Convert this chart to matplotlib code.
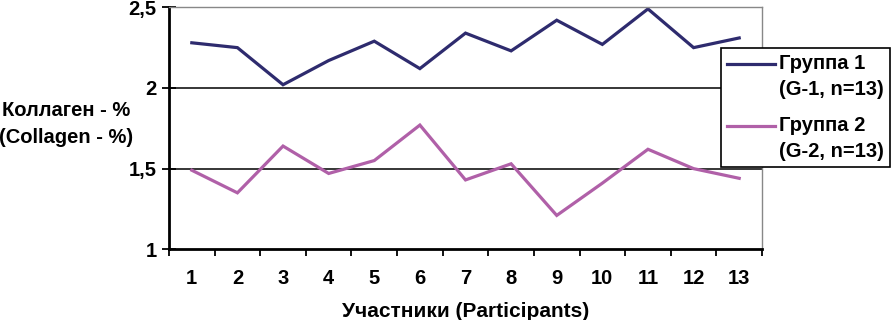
import numpy as np
import matplotlib.pyplot as plt
from matplotlib.ticker import FixedLocator, NullFormatter
from matplotlib.legend_handler import HandlerLine2D

participants = list(range(1, 14))
group1 = [2.28, 2.25, 2.02, 2.17, 2.29, 2.12, 2.34, 2.23, 2.42, 2.27, 2.49, 2.25, 2.31]
group2 = [1.49, 1.35, 1.64, 1.47, 1.55, 1.77, 1.43, 1.53, 1.21, 1.41, 1.62, 1.50, 1.44]
labels = ['Группа 1\n(G-1, n=13)', 'Группа 2\n(G-2, n=13)']
y_ticks = [1, 1.5, 2, 2.5]
y_tick_labels = ['1', '1,5', '2', '2,5']

plt.rcParams['font.family'] = ['Liberation Sans', 'DejaVu Sans']
plt.rcParams['font.weight'] = 'bold'


class RaisedLine(HandlerLine2D):
    # puts the legend line next to the first text line instead of the middle
    def __init__(self, shift, **kw):
        super().__init__(**kw)
        self.shift = shift

    def create_artists(self, legend, orig_handle, xdescent, ydescent, width, height, fontsize, trans):
        artists = super().create_artists(legend, orig_handle, xdescent, ydescent,
                                         width, height, fontsize, trans)
        for a in artists:
            a.set_ydata(np.asarray(a.get_ydata()) + self.shift)
        return artists


fig = plt.figure(figsize=(8.96, 3.2), dpi=100)
ax = fig.add_axes([169 / 896, 1 - 249.3 / 320, (762 - 169) / 896, (249.3 - 7.3) / 320])

l1, = ax.plot(participants, group1, color='#2e2b6e', lw=2.3, solid_joinstyle='miter')
l2, = ax.plot(participants, group2, color='#b060a8', lw=2.3, solid_joinstyle='miter')

ax.set_xlim(0.5, 13.5)
ax.set_ylim(1, 2.5)

# category axis: ticks between categories, labels at the centres
ax.xaxis.set_major_locator(FixedLocator(np.arange(0.5, 14, 1)))
ax.xaxis.set_major_formatter(NullFormatter())
ax.xaxis.set_minor_locator(FixedLocator(participants))
ax.set_xticklabels([str(p) for p in participants], minor=True)
ax.tick_params(axis='x', which='major', direction='out', length=5, width=1.3, color='black')
ax.tick_params(axis='x', which='minor', length=0, pad=14, labelsize=14.5)

ax.set_yticks(y_ticks)
ax.set_yticklabels(y_tick_labels)
ax.tick_params(axis='y', direction='inout', length=10, width=1.3, pad=4, labelsize=14.5)

for y in [1.5, 2]:
    ax.axhline(y, color='black', lw=1.1, zorder=0.5)

ax.spines['left'].set_linewidth(2)
ax.spines['bottom'].set_linewidth(2)
ax.spines['top'].set_color('#888888')
ax.spines['right'].set_color('#888888')
ax.spines['top'].set_linewidth(1)
ax.spines['right'].set_linewidth(1)

ax.set_xlabel('Участники (Participants)', fontsize=15, fontweight='bold', labelpad=10)
fig.text(66 / 896, 1 - 124 / 320, 'Коллаген - %\n(Collagen - %)', ha='center', va='center',
         fontsize=14.5, fontweight='bold', linespacing=1.5)

leg = fig.legend([l1, l2], labels, loc='upper left', bbox_to_anchor=(721 / 896, 1 - 48 / 320),
                 frameon=True, fancybox=False, edgecolor='black', framealpha=1,
                 prop={'size': 14.5, 'weight': 'bold'}, handlelength=2.4, handletextpad=0.2,
                 borderpad=0.3, labelspacing=0.85, borderaxespad=0,
                 handler_map={l1: RaisedLine(9), l2: RaisedLine(9)})
leg.get_frame().set_linewidth(1.2)
for t in leg.get_texts():
    t.set_linespacing(1.45)

fig.savefig('out.png', dpi=100)
